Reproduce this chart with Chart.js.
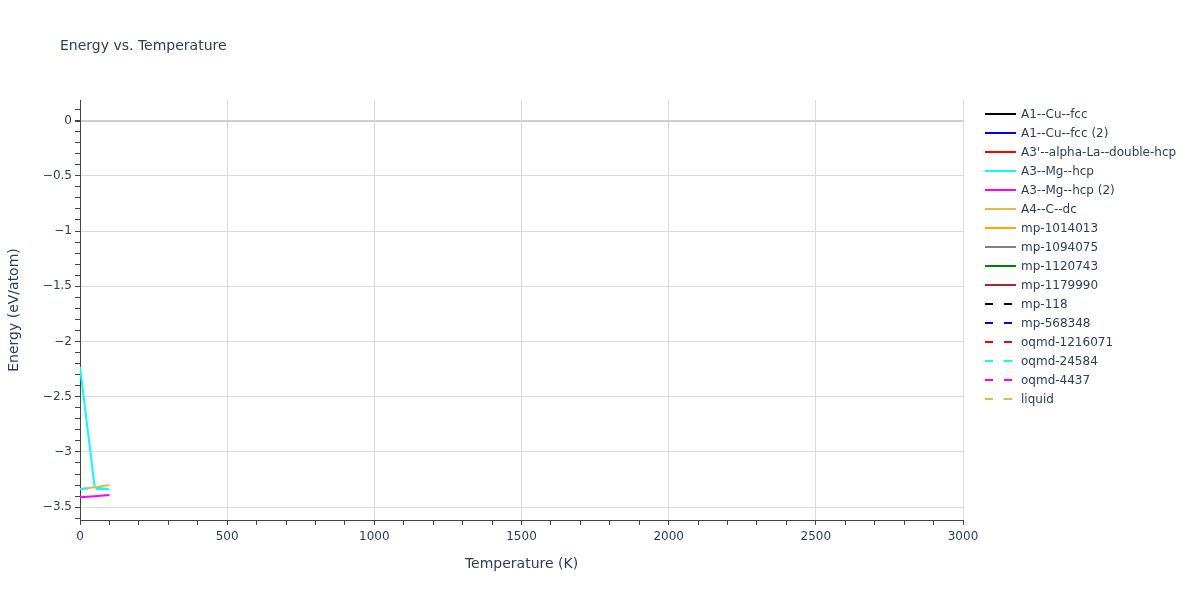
<!DOCTYPE html>
<html>
<head>
<meta charset="utf-8">
<script src="https://cdn.jsdelivr.net/npm/chart.js@4/dist/chart.umd.min.js"></script>
<style>
  body { margin: 0; background: #fff; font-family: "DejaVu Sans", sans-serif; }
  #wrap { position: relative; width: 1200px; height: 600px; }
  #title { position: absolute; left: 60px; top: 37px; font-size: 14px; color: #2a3f5f; }
  #legend { position: absolute; left: 985px; top: 104px; font-size: 12px; color: #2a3f5f; }
  .item { height: 19px; display: flex; align-items: center; white-space: nowrap; }
  .item svg { margin-right: 5px; }
</style>
</head>
<body>
<div id="wrap">
  <canvas id="chart" width="1200" height="600"></canvas>
  <div id="title">Energy vs. Temperature</div>
  <div id="legend"></div>
</div>
<script>
// Séries (temperaturas em K, energias em eV/atom)
var temps = [0, 50, 100];
var seriesNames = ["A1--Cu--fcc", "A1--Cu--fcc (2)", "A3'--alpha-La--double-hcp", "A3--Mg--hcp", "A3--Mg--hcp (2)",
    "A4--C--dc", "mp-1014013", "mp-1094075", "mp-1120743", "mp-1179990",
    "mp-118", "mp-568348", "oqmd-1216071", "oqmd-24584", "oqmd-4437", "liquid"];
var seriesColors = ["#000000", "#0000ff", "#ff0000", "#00ffff", "#ff00ff",
    "#e8bc3a", "#ffa500", "#808080", "#008000", "#a52a2a",
    "#000000", "#0000ff", "#ff0000", "#00ffff", "#ff00ff", "#e8bc3a"];
var dashed = [false, false, false, false, false, false, false, false, false, false,
    true, true, true, true, true, true];

var mgHcp = [-2.23, -3.32, -3.34];
var mgHcp2 = [-3.41, -3.40, -3.39];
var cDc = [-3.335, -3.32, -3.30];
var oqmd24584 = [-3.335, -3.333, -3.34];

var seriesValues = {
    "A3--Mg--hcp": mgHcp,
    "A3--Mg--hcp (2)": mgHcp2,
    "A4--C--dc": cDc,
    "oqmd-24584": oqmd24584
};

var xTicks = [0, 500, 1000, 1500, 2000, 2500, 3000];
var yTicks = [0, -0.5, -1, -1.5, -2, -2.5, -3, -3.5];

function isMajor(v, step) {
    return Math.abs(v / step - Math.round(v / step)) < 1e-6;
}

document.addEventListener("DOMContentLoaded", function () {
    var ctx = document.getElementById("chart").getContext("2d");
    var n = seriesNames.length;

    var datasets = seriesNames.map(function (name, i) {
        var vals = seriesValues[name] || [];
        return {
            label: name,
            data: vals.map(function (v, k) { return { x: temps[k], y: v }; }),
            borderColor: seriesColors[i],
            backgroundColor: seriesColors[i],
            borderWidth: 2,
            borderDash: dashed[i] ? [8, 8] : [],
            pointRadius: 0,
            tension: 0,
            order: n - i
        };
    });

    new Chart(ctx, {
        type: "line",
        data: { datasets: datasets },
        options: {
            responsive: false,
            animation: false,
            layout: { padding: { top: 100, right: 237, left: 0, bottom: 0 } },
            plugins: { legend: { display: false }, tooltip: { enabled: false } },
            scales: {
                x: {
                    type: "linear",
                    min: 0,
                    max: 3000,
                    afterFit: function (s) { s.height = 80; },
                    ticks: {
                        stepSize: 100,
                        autoSkip: false,
                        maxRotation: 0,
                        padding: 5,
                        color: "#2a3f5f",
                        font: { family: "DejaVu Sans", size: 12 },
                        callback: function (v) { return xTicks.indexOf(v) >= 0 ? String(v) : ""; }
                    },
                    grid: {
                        tickLength: 5,
                        color: function (c) {
                            var v = c.tick ? c.tick.value : 0;
                            return (v !== 0 && isMajor(v, 500)) ? "#dcdcdc" : "rgba(0,0,0,0)";
                        },
                        tickColor: "#444"
                    },
                    border: { display: true, color: "#444", width: 1 },
                    title: {
                        display: true,
                        text: "Temperature (K)",
                        color: "#2a3f5f",
                        font: { family: "DejaVu Sans", size: 14 },
                        padding: { top: 0, bottom: 27 }
                    }
                },
                y: {
                    type: "linear",
                    min: -3.616,
                    max: 0.186,
                    afterFit: function (s) { s.width = 80; },
                    afterBuildTicks: function (s) {
                        var t = [];
                        for (var k = -36; k <= 1; k++) t.push({ value: k / 10 });
                        s.ticks = t;
                    },
                    ticks: {
                        autoSkip: false,
                        padding: 3,
                        color: "#2a3f5f",
                        font: { family: "DejaVu Sans", size: 12 },
                        callback: function (v) {
                            if (!isMajor(v, 0.5)) return "";
                            var r = Math.round(v * 10) / 10;
                            return r < 0 ? "\u2212" + String(Math.abs(r)) : String(r);
                        }
                    },
                    grid: {
                        tickLength: 5,
                        color: function (c) {
                            var v = c.tick ? c.tick.value : 1;
                            if (Math.abs(v) < 1e-6) return "#cfcfcf";
                            return isMajor(v, 0.5) ? "#dcdcdc" : "rgba(0,0,0,0)";
                        },
                        lineWidth: function (c) {
                            var v = c.tick ? c.tick.value : 1;
                            return Math.abs(v) < 1e-6 ? 2 : 1;
                        },
                        tickColor: "#444"
                    },
                    border: { display: true, color: "#444", width: 1 },
                    title: {
                        display: true,
                        text: "Energy (eV/atom)",
                        color: "#2a3f5f",
                        font: { family: "DejaVu Sans", size: 14 },
                        padding: { top: 6, bottom: 0 }
                    }
                }
            }
        }
    });

    // Legenda em HTML (amostras tracejadas como no original)
    var legend = document.getElementById("legend");
    seriesNames.forEach(function (name, i) {
        var item = document.createElement("div");
        item.className = "item";
        var dash = dashed[i] ? ' stroke-dasharray="8,11"' : "";
        item.innerHTML = '<svg width="31" height="4"><line x1="0" y1="2" x2="31" y2="2" stroke="' +
            seriesColors[i] + '" stroke-width="2"' + dash + '></line></svg><span>' + name + '</span>';
        legend.appendChild(item);
    });
});
</script>
</body>
</html>
